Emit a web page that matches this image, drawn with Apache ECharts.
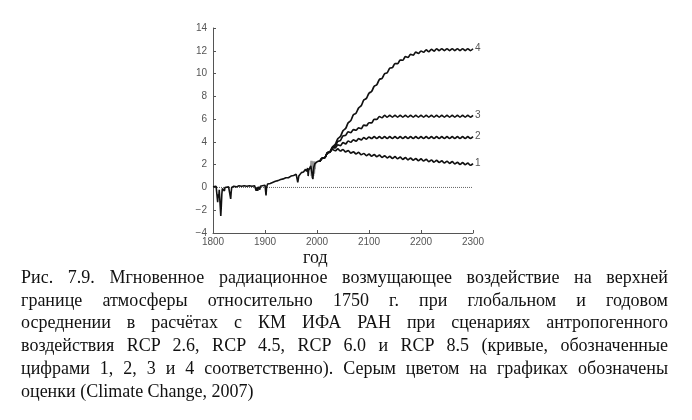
<!DOCTYPE html>
<html>
<head>
<meta charset="utf-8">
<script src="https://cdn.jsdelivr.net/npm/echarts@6/dist/echarts.min.js"></script>
<style>
  html, body { margin: 0; padding: 0; background: #fff; }
  #wrap { position: relative; width: 692px; height: 420px; overflow: hidden; }
  #chart { position: absolute; left: 0; top: 0; width: 692px; height: 420px; }
  #caption { position: absolute; left: 21px; top: 266px; width: 647px;
    font-family: "Liberation Serif", "Times New Roman", serif; font-size: 18px;
    line-height: 22.7px; color: #111; }
  #caption div { text-align: justify; text-align-last: justify; }
  #caption div.last { text-align: left; text-align-last: left; }
</style>
</head>
<body>
<div id="wrap">
  <div id="chart"></div>
  <div id="caption">
    <div>Рис. 7.9. Мгновенное радиационное возмущающее воздействие на верхней</div>
    <div>границе атмосферы относительно 1750 г. при глобальном и годовом</div>
    <div>осреднении в расчётах с КМ ИФА РАН при сценариях антропогенного</div>
    <div>воздействия RCP 2.6, RCP 4.5, RCP 6.0 и RCP 8.5 (кривые, обозначенные</div>
    <div>цифрами 1, 2, 3 и 4 соответственно). Серым цветом на графиках обозначены</div>
    <div class="last">оценки (Climate Change, 2007)</div>
  </div>
</div>
<script>
// ---- data (W/m^2) ----
var xTicks = [1800, 1900, 2000, 2100, 2200, 2300];
var yTicks = [-4, -2, 0, 2, 4, 6, 8, 10, 12, 14];
var xAxisTitle = 'год';

// historical forcing with volcanic dips
var histYears = [1800,1803,1806,1808,1809,1810,1811,1812,1814,1815,1816,1817,1818,1820,1822,1823,1826,1830,1833,1834,1835,1836,1840,1845,1850,1855,1860,1865,1870,1875,1880,1882,1883,1884,1886,1887,1890,1891,1895,1900,1902,1903,1905,1910,1912,1913,1920,1925,1930,1935,1940,1945,1950,1955,1960,1962,1963,1964,1965,1967,1970,1974,1975,1976,1978,1980,1982,1983,1984,1986,1988,1990,1991,1992,1993,1994,1996,2000,2005];
var histValues = [0.05,0.0,0.1,0.05,-1.3,-0.6,-0.9,-0.2,-0.1,-2.5,-1.6,-0.6,-0.1,0.05,-0.3,0.0,0.1,0.05,0.0,-1.0,-0.4,0.0,0.1,0.05,0.15,0.1,0.15,0.1,0.15,0.1,0.15,0.1,-0.3,0.0,-0.3,0.05,-0.2,0.1,0.15,0.2,-0.7,0.0,0.3,0.35,0.2,0.45,0.55,0.6,0.7,0.75,0.85,0.85,1.0,1.05,1.15,1.2,0.45,0.7,1.0,1.15,1.3,1.35,1.2,1.45,1.6,1.4,1.7,1.0,1.5,1.7,1.9,1.95,2.0,0.75,1.3,1.8,2.1,2.25,2.35];

// grey estimates (Climate Change, 2007)
var estYears  = [1988,1988.5,1989,1990,1990.5,1991.5,1992,1993,1993.5,1994.5,1995,1996,1996.5,1997];
var estValues = [1.9,2.35,1.0,2.35,0.8,2.3,0.7,2.3,1.0,2.3,1.2,2.3,1.6,2.1];

// scenario years
var scenYears = [2005,2010,2015,2020,2025,2030,2035,2040,2045,2050,2055,2060,2065,2070,2075,2080,2085,2090,2095,2100,
                 2105,2110,2115,2120,2125,2130,2135,2140,2145,2150,2155,2160,2165,2170,2175,2180,2185,2190,2195,2200,
                 2205,2210,2215,2220,2225,2230,2235,2240,2245,2250,2255,2260,2265,2270,2275,2280,2285,2290,2295,2300];

// RCP 2.6 (curve 1)
var rcp26 = [2.27,2.58,2.62,3.03,3.12,3.33,3.22,3.38,3.20,3.33,3.12,3.23,3.02,3.13,2.94,3.08,2.87,2.98,2.80,2.93,
             2.74,2.88,2.70,2.83,2.64,2.78,2.60,2.73,2.55,2.70,2.52,2.66,2.47,2.61,2.42,2.58,2.40,2.53,2.35,2.50,
             2.32,2.46,2.27,2.41,2.22,2.38,2.20,2.33,2.15,2.30,2.12,2.26,2.07,2.21,2.02,2.18,2.00,2.13,1.95,2.10];
// RCP 4.5 (curve 2)
var rcp45 = [2.27,2.58,2.62,3.03,3.12,3.48,3.47,3.73,3.67,3.93,3.82,4.08,3.97,4.18,4.07,4.28,4.17,4.38,4.24,4.43,
             4.30,4.46,4.30,4.46,4.30,4.46,4.30,4.46,4.30,4.46,4.30,4.46,4.30,4.46,4.30,4.46,4.30,4.46,4.30,4.46,
             4.30,4.46,4.30,4.46,4.30,4.46,4.30,4.46,4.30,4.46,4.30,4.46,4.30,4.46,4.30,4.46,4.30,4.46,4.30,4.46];
// RCP 6.0 (curve 3)
var rcp60 = [2.27,2.58,2.62,3.03,3.12,3.53,3.62,4.03,4.12,4.53,4.57,4.88,4.82,5.08,5.02,5.23,5.17,5.48,5.42,5.68,
             5.67,5.98,5.97,6.23,6.12,6.33,6.17,6.33,6.17,6.33,6.17,6.33,6.17,6.33,6.17,6.33,6.17,6.33,6.17,6.33,
             6.17,6.33,6.17,6.33,6.17,6.33,6.17,6.33,6.17,6.33,6.17,6.33,6.17,6.33,6.17,6.33,6.17,6.33,6.17,6.33];
// RCP 8.5 (curve 4)
var rcp85 = [2.27,2.58,2.62,3.03,3.12,3.58,3.77,4.28,4.47,4.98,5.17,5.68,5.87,6.38,6.52,6.98,7.17,7.68,7.82,8.28,
             8.42,8.88,9.02,9.48,9.57,9.98,10.07,10.48,10.52,10.88,10.87,11.18,11.17,11.48,11.42,11.68,11.62,11.88,11.77,11.98,
             11.87,12.08,11.92,12.13,11.97,12.18,12.02,12.18,12.02,12.18,12.02,12.18,12.02,12.18,12.02,12.18,12.02,12.18,12.02,12.18];

var zeroLine = [[1800, 0], [2300, 0]];

function zip(xs, ys) { return xs.map(function (x, i) { return [x, ys[i]]; }); }

var axisColor = '#555';
var labelFont = { fontSize: 10, color: '#555', fontFamily: 'Liberation Sans, Arial, sans-serif' };

function scen(name, vals, lab) {
  return {
    name: name, type: 'line', data: zip(scenYears, vals), symbol: 'none', smooth: 0.3,
    lineStyle: { color: '#111', width: 1.7 }, z: 5,
    endLabel: { show: true, formatter: lab, distance: 2, fontSize: 10, color: '#555',
                fontFamily: 'Liberation Sans, Arial, sans-serif' }
  };
}

var chart = echarts.init(document.getElementById('chart'));
chart.setOption({
  animation: false,
  grid: { left: 213, top: 28, width: 260, height: 205, containLabel: false },
  xAxis: {
    type: 'value', min: xTicks[0], max: xTicks[xTicks.length - 1], interval: 100,
    axisLine: { show: true, onZero: false, lineStyle: { color: axisColor, width: 1 } },
    axisTick: { show: true, inside: true, length: 3, lineStyle: { color: axisColor } },
    axisLabel: Object.assign({ margin: 4, formatter: function (v) { return String(v); } }, labelFont),
    splitLine: { show: false }
  },
  yAxis: {
    type: 'value', min: yTicks[0], max: yTicks[yTicks.length - 1], interval: 2,
    axisLine: { show: true, onZero: false, lineStyle: { color: axisColor, width: 1 } },
    axisTick: { show: true, inside: true, length: 3, lineStyle: { color: axisColor } },
    axisLabel: Object.assign({ margin: 6, formatter: function (v) { return String(v).replace('-', '\u2212'); } }, labelFont),
    splitLine: { show: false }
  },
  graphic: [{
    type: 'text', left: 303, top: 249,
    style: { text: xAxisTitle, fontSize: 18, fill: '#111', fontFamily: 'Liberation Serif, Times New Roman, serif' }
  }],
  series: [
    { name: 'zero', type: 'line', data: zeroLine, symbol: 'none',
      lineStyle: { color: '#666', width: 1, type: 'dotted' }, z: 1 },
    { name: 'estimates', type: 'line', data: zip(estYears, estValues), symbol: 'none',
      lineStyle: { color: '#999', width: 1.5 }, z: 3 },
    { name: 'historical', type: 'line', data: zip(histYears, histValues), symbol: 'none',
      lineStyle: { color: '#111', width: 1.6 }, z: 4 },
    scen('RCP 2.6', rcp26, '1'),
    scen('RCP 4.5', rcp45, '2'),
    scen('RCP 6.0', rcp60, '3'),
    scen('RCP 8.5', rcp85, '4')
  ]
});
</script>
</body>
</html>
